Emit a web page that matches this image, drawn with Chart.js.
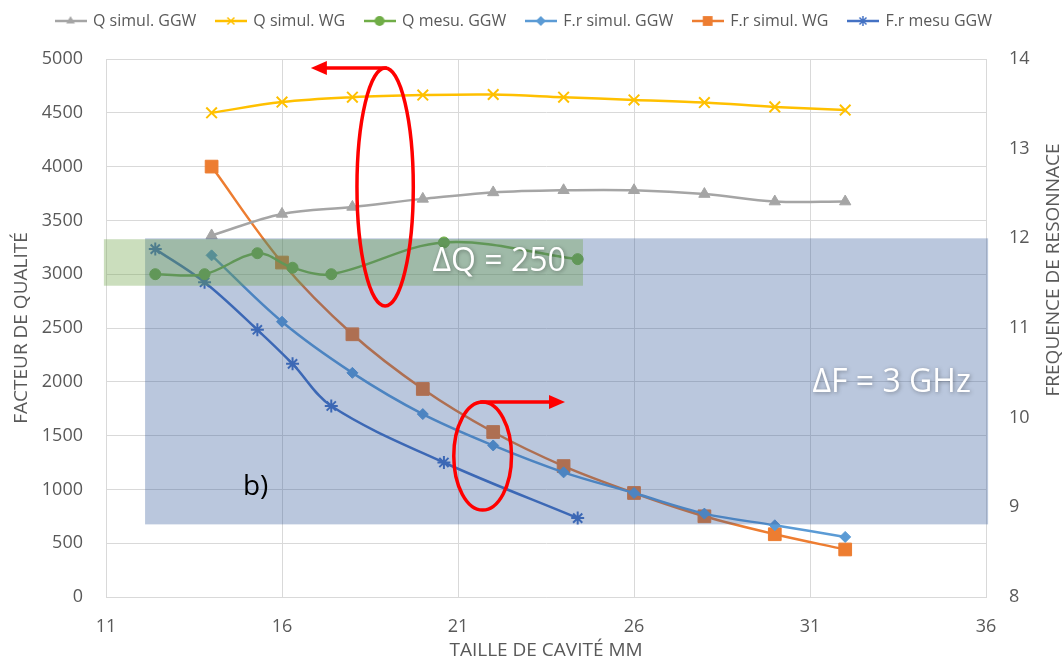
<!DOCTYPE html>
<html><head><meta charset="utf-8">
<script src="https://cdn.jsdelivr.net/npm/chart.js@4.4.1/dist/chart.umd.min.js"></script>
<style>html,body{margin:0;padding:0;background:#fff}canvas{display:block}</style>
</head><body>
<canvas id="c" width="1064" height="670"></canvas>
<script>
// ---- data ----
const seriesNames = ['Q simul. GGW', 'Q simul. WG', 'Q mesu. GGW', 'F.r simul. GGW', 'F.r simul. WG', 'F.r mesu GGW'];
const xSim = [14, 16, 18, 20, 22, 24, 26, 28, 30, 32];
const xMes = [12.4, 13.8, 15.3, 16.3, 17.4, 20.6, 24.4];
const qSimGGW = [3360, 3560, 3625, 3700, 3760, 3780, 3780, 3745, 3675, 3675];
const qSimWG = [4500, 4600, 4645, 4665, 4670, 4645, 4620, 4595, 4555, 4525];
const qMesGGW = [3000, 3000, 3195, 3060, 3000, 3295, 3140];
const frSimGGW = [11.81, 11.07, 10.50, 10.04, 9.69, 9.39, 9.16, 8.93, 8.80, 8.67];
const frSimWG = [12.80, 11.73, 10.93, 10.32, 9.84, 9.46, 9.16, 8.90, 8.70, 8.53];
const frMesGGW = [11.88, 11.51, 10.98, 10.60, 10.13, 9.50, 8.88];
const xTitle = 'TAILLE DE CAVITÉ MM';
const yTitle = 'FACTEUR DE QUALITÉ';
const y1Title = 'FREQUENCE DE RESONNACE';
const noteQ = 'ΔQ = 250';
const noteF = 'ΔF = 3 GHz';
const noteB = 'b)';

// ---- styling ----
const FONT = '"Open Sans", "DejaVu Sans", sans-serif';
const TXT = '#595959';
const GRID = '#d9d9d9';
const LEGEND_HEIGHT = 66;

const styles = [
  {color: '#a5a5a5', point: 'triangle', r: 6.5, axis: 'y'},
  {color: '#ffc000', point: 'crossRot', r: 7.5, axis: 'y'},
  {color: '#70ad47', point: 'circle', r: 5.5, axis: 'y'},
  {color: '#5b9bd5', point: 'rectRot', r: 5.5, axis: 'y1'},
  {color: '#ed7d31', point: 'rect', r: 9, axis: 'y1'},
  {color: '#4472c4', point: 'star', r: 6.5, axis: 'y1'}
];
const xs = [xSim, xSim, xMes, xSim, xSim, xMes];
const ys = [qSimGGW, qSimWG, qMesGGW, frSimGGW, frSimWG, frMesGGW];

function marker(ctx, type, x, y, r) {
  ctx.beginPath();
  if (type === 'triangle') {
    ctx.moveTo(x, y - r); ctx.lineTo(x + r * 0.866, y + r * 0.5); ctx.lineTo(x - r * 0.866, y + r * 0.5); ctx.closePath(); ctx.fill();
  } else if (type === 'circle') {
    ctx.arc(x, y, r, 0, Math.PI * 2); ctx.fill();
  } else if (type === 'rectRot') {
    ctx.moveTo(x, y - r); ctx.lineTo(x + r, y); ctx.lineTo(x, y + r); ctx.lineTo(x - r, y); ctx.closePath(); ctx.fill();
  } else if (type === 'rect') {
    ctx.rect(x - r * 0.7, y - r * 0.7, r * 1.4, r * 1.4); ctx.fill();
  } else if (type === 'crossRot') {
    const d = r * 0.7; ctx.moveTo(x - d, y - d); ctx.lineTo(x + d, y + d); ctx.moveTo(x + d, y - d); ctx.lineTo(x - d, y + d); ctx.stroke();
  } else if (type === 'star') {
    const d = r * 0.7; ctx.moveTo(x - d, y - d); ctx.lineTo(x + d, y + d); ctx.moveTo(x + d, y - d); ctx.lineTo(x - d, y + d);
    ctx.moveTo(x, y - r); ctx.lineTo(x, y + r); ctx.stroke();
  }
}
const legendImgs = styles.map(s => {
  const cv = document.createElement('canvas'); cv.width = 32; cv.height = 14;
  const c = cv.getContext('2d');
  c.strokeStyle = s.color; c.fillStyle = s.color; c.lineWidth = 2.5;
  c.beginPath(); c.moveTo(0, 7); c.lineTo(32, 7); c.stroke();
  c.lineWidth = 1.5;
  marker(c, s.point, 16, 7, s.point === 'rect' ? 7 : 5);
  return cv;
});

const datasets = seriesNames.map((name, i) => ({
  label: name,
  data: xs[i].map((x, k) => ({x: x, y: ys[i][k]})),
  yAxisID: styles[i].axis,
  borderColor: styles[i].color,
  backgroundColor: styles[i].color,
  borderWidth: 2.5,
  pointStyle: styles[i].point,
  pointRadius: styles[i].r,
  pointBorderWidth: (styles[i].point === 'crossRot' || styles[i].point === 'star') ? 2 : 1,
  pointBackgroundColor: styles[i].color,
  pointBorderColor: styles[i].color,
  tension: 0.35,
  fill: false
}));

// annotation geometry (data units)
const blueBox = {x0: 12.11, x1: 36.06, f0: 8.81, f1: 12.0};
const greenBox = {x0: 10.94, x1: 24.55, q0: 2893, q1: 3325};
const ell1 = {x: 18.93, q: 3810, rx: 0.8, rq: 1106};
const arrow1 = {x0: 18.98, x1: 16.82, q: 4916};
const ell2 = {x: 21.70, q: 1310, rx: 0.82, rq: 502};
const arrow2 = {x0: 21.63, x1: 24.04, q: 1812};
const posQ = {x: 22.17, q: 3113};
const posF = {x: 33.32, q: 1986};
const posB = {x: 15.25, q: 1022};

function arrow(ctx, x0, y0, x1, y1) {
  const dir = Math.sign(x1 - x0);
  ctx.beginPath(); ctx.moveTo(x0, y0); ctx.lineTo(x1 - dir * 10, y1); ctx.stroke();
  ctx.beginPath(); ctx.moveTo(x1, y1); ctx.lineTo(x1 - dir * 16, y1 - 7); ctx.lineTo(x1 - dir * 16, y1 + 7); ctx.closePath(); ctx.fill();
}

const annotPlugin = {
  id: 'annot',
  beforeLayout(chart) {
    const lg = chart.legend;
    if (lg && !lg._patched) {
      const f = lg.fit;
      lg.fit = function () { f.call(this); this.height = LEGEND_HEIGHT; };
      lg._patched = true;
    }
  },
  afterDatasetsDraw(chart) {
    const {ctx, scales: {x, y, y1}} = chart;
    ctx.save();
    const bx0 = x.getPixelForValue(blueBox.x0), bx1 = x.getPixelForValue(blueBox.x1);
    const by0 = y1.getPixelForValue(blueBox.f1), by1 = y1.getPixelForValue(blueBox.f0);
    ctx.fillStyle = 'rgba(47,85,151,0.33)';
    ctx.fillRect(bx0, by0, bx1 - bx0, by1 - by0);
    const gx0 = x.getPixelForValue(greenBox.x0), gx1 = x.getPixelForValue(greenBox.x1);
    const gy0 = y.getPixelForValue(greenBox.q1), gy1 = y.getPixelForValue(greenBox.q0);
    ctx.fillStyle = 'rgba(112,163,71,0.36)';
    ctx.fillRect(gx0, gy0, gx1 - gx0, gy1 - gy0);

    // texts
    ctx.textAlign = 'center'; ctx.textBaseline = 'middle';
    ctx.font = '32px ' + FONT;
    ctx.shadowColor = 'rgba(0,0,0,0.35)'; ctx.shadowBlur = 4; ctx.shadowOffsetX = 1; ctx.shadowOffsetY = 1;
    ctx.fillStyle = '#ffffff';
    ctx.fillText(noteQ, x.getPixelForValue(posQ.x), y.getPixelForValue(posQ.q));
    ctx.fillText(noteF, x.getPixelForValue(posF.x), y.getPixelForValue(posF.q));
    ctx.shadowColor = 'transparent'; ctx.shadowBlur = 0; ctx.shadowOffsetX = 0; ctx.shadowOffsetY = 0;
    ctx.fillStyle = '#000000';
    ctx.font = '28px ' + FONT;
    ctx.fillText(noteB, x.getPixelForValue(posB.x), y.getPixelForValue(posB.q));

    // red ellipses + arrows
    ctx.strokeStyle = '#ff0000'; ctx.fillStyle = '#ff0000'; ctx.lineWidth = 3.5;
    const e1x = x.getPixelForValue(ell1.x), e1y = y.getPixelForValue(ell1.q);
    ctx.beginPath();
    ctx.ellipse(e1x, e1y, Math.abs(x.getPixelForValue(ell1.x + ell1.rx) - e1x), Math.abs(y.getPixelForValue(ell1.q + ell1.rq) - e1y), 0, 0, Math.PI * 2);
    ctx.stroke();
    arrow(ctx, x.getPixelForValue(arrow1.x0), y.getPixelForValue(arrow1.q), x.getPixelForValue(arrow1.x1), y.getPixelForValue(arrow1.q));
    const e2x = x.getPixelForValue(ell2.x), e2y = y.getPixelForValue(ell2.q);
    ctx.beginPath();
    ctx.ellipse(e2x, e2y, Math.abs(x.getPixelForValue(ell2.x + ell2.rx) - e2x), Math.abs(y.getPixelForValue(ell2.q + ell2.rq) - e2y), 0, 0, Math.PI * 2);
    ctx.stroke();
    arrow(ctx, x.getPixelForValue(arrow2.x0), y.getPixelForValue(arrow2.q), x.getPixelForValue(arrow2.x1), y.getPixelForValue(arrow2.q));
    ctx.restore();
  },
  afterDraw(chart) {
    const {ctx} = chart;
    ctx.save();
    ctx.translate(1054, 270);
    ctx.rotate(-Math.PI / 2);
    ctx.textAlign = 'center'; ctx.textBaseline = 'middle';
    ctx.fillStyle = TXT;
    ctx.font = '19px ' + FONT;
    ctx.fillText(y1Title, 0, 0);
    ctx.restore();
  }
};

const plainTick = v => String(v);

new Chart(document.getElementById('c'), {
  type: 'line',
  data: {datasets: datasets},
  plugins: [annotPlugin],
  options: {
    responsive: false,
    animation: false,
    devicePixelRatio: 1,
    layout: {padding: {top: -7, left: -8, right: 8, bottom: 0}},
    plugins: {
      tooltip: {enabled: false},
      legend: {
        position: 'top',
        align: 'center',
        labels: {
          usePointStyle: true,
          pointStyleWidth: 29,
          boxHeight: 14,
          padding: 20,
          color: TXT,
          font: {family: FONT, size: 16},
          generateLabels(chart) {
            const items = Chart.defaults.plugins.legend.labels.generateLabels(chart);
            items.forEach((it, i) => { it.pointStyle = legendImgs[i]; });
            return items;
          }
        }
      }
    },
    scales: {
      x: {
        type: 'linear', position: 'bottom', min: 11, max: 36,
        afterFit(s) { s.height = 73; },
        ticks: {stepSize: 5, color: TXT, font: {family: FONT, size: 18}, padding: 19, callback: plainTick},
        grid: {color: GRID, drawTicks: false},
        border: {color: GRID},
        title: {display: true, text: xTitle, color: TXT, font: {family: FONT, size: 19}, padding: {top: 0, bottom: 8}}
      },
      y: {
        type: 'linear', position: 'left', min: 0, max: 5000,
        afterFit(s) { s.width = 114; },
        ticks: {stepSize: 500, color: TXT, font: {family: FONT, size: 18}, padding: 23, callback: plainTick},
        grid: {color: GRID, drawTicks: false},
        border: {color: GRID},
        title: {display: true, text: yTitle, color: TXT, font: {family: FONT, size: 19}, padding: {top: 18, bottom: 0}}
      },
      y1: {
        type: 'linear', position: 'right', min: 8, max: 14,
        afterFit(s) { s.width = 70; },
        ticks: {stepSize: 1, color: TXT, font: {family: FONT, size: 18}, padding: 23, callback: plainTick},
        grid: {drawOnChartArea: false, drawTicks: false},
        border: {display: false}
      }
    }
  }
});
</script>
</body></html>
